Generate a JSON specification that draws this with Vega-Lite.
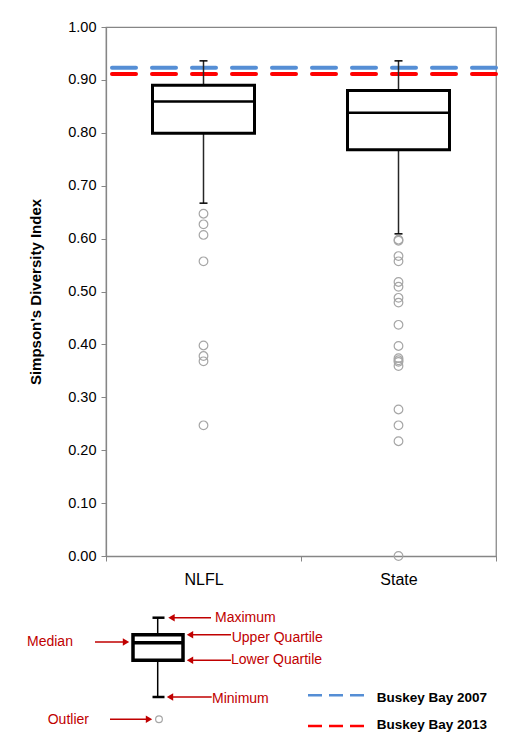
{
  "$schema": "https://vega.github.io/schema/vega-lite/v6.json",
  "padding": {"left": 27, "top": 18, "right": 0, "bottom": 0},
  "spacing": 13,
  "config": {
    "font": "Liberation Sans",
    "view": {"stroke": "#868686", "strokeWidth": 1.25}
  },
  "datasets": {
    "boxes": [
      {"site": "NLFL", "min": 0.667, "q1": 0.799, "median": 0.859, "q3": 0.890, "max": 0.936},
      {"site": "State", "min": 0.609, "q1": 0.768, "median": 0.838, "q3": 0.880, "max": 0.936}
    ],
    "outliers": [
      {"site": "NLFL", "value": 0.647}, {"site": "NLFL", "value": 0.627}, {"site": "NLFL", "value": 0.607},
      {"site": "NLFL", "value": 0.557}, {"site": "NLFL", "value": 0.398}, {"site": "NLFL", "value": 0.378},
      {"site": "NLFL", "value": 0.368}, {"site": "NLFL", "value": 0.247},
      {"site": "State", "value": 0.598}, {"site": "State", "value": 0.596}, {"site": "State", "value": 0.567},
      {"site": "State", "value": 0.557}, {"site": "State", "value": 0.518}, {"site": "State", "value": 0.509},
      {"site": "State", "value": 0.488}, {"site": "State", "value": 0.479}, {"site": "State", "value": 0.437},
      {"site": "State", "value": 0.397}, {"site": "State", "value": 0.374}, {"site": "State", "value": 0.370},
      {"site": "State", "value": 0.367}, {"site": "State", "value": 0.359}, {"site": "State", "value": 0.277},
      {"site": "State", "value": 0.247}, {"site": "State", "value": 0.217}, {"site": "State", "value": 0.0}
    ],
    "refs": [
      {"label": "Buskey Bay 2007", "value": 0.923},
      {"label": "Buskey Bay 2013", "value": 0.911}
    ],
    "schematicWhisker": [{"x": 13.07, "y": 1.67, "y2": 9.6}],
    "schematicCaps": [{"x": 12.55, "x2": 13.75, "y": 1.67}, {"x": 12.55, "x2": 13.75, "y": 9.6}],
    "schematicBox": [{"x": 10.6, "x2": 15.6, "y": 3.37, "y2": 5.93, "ym": 4.17}],
    "schematicOutlier": [{"x": 13.2, "y": 11.83}],
    "arrows": [
      {"x": 18.4, "x2": 14.5, "y": 1.67, "head": 14.45, "dir": "left"},
      {"x": 20.4, "x2": 16.4, "y": 3.37, "head": 16.3, "dir": "left"},
      {"x": 20.4, "x2": 16.4, "y": 5.93, "head": 16.3, "dir": "left"},
      {"x": 18.47, "x2": 14.4, "y": 9.6, "head": 14.3, "dir": "left"},
      {"x": 6.8, "x2": 9.8, "y": 4.1, "head": 9.9, "dir": "right"},
      {"x": 8.3, "x2": 12.1, "y": 11.83, "head": 12.2, "dir": "right"}
    ],
    "notes": [
      {"x": 18.8, "y": 1.7, "text": "Maximum"},
      {"x": 20.47, "y": 3.7, "text": "Upper Quartile"},
      {"x": 20.4, "y": 5.93, "text": "Lower Quartile"},
      {"x": 18.5, "y": 9.8, "text": "Minimum"},
      {"x": 0.0, "y": 4.1, "text": "Median"},
      {"x": 2.07, "y": 11.87, "text": "Outlier"}
    ],
    "legendItems": [
      {"label": "Buskey Bay 2007", "x": 28.1, "x2": 34.2, "y": 9.43, "tx": 34.97, "ty": 9.67},
      {"label": "Buskey Bay 2013", "x": 28.1, "x2": 34.2, "y": 12.5, "tx": 34.97, "ty": 12.4}
    ]
  },
  "vconcat": [
    {
      "width": 390,
      "height": 529,
      "layer": [
        {
          "data": {"name": "refs"},
          "mark": {"type": "rule", "strokeWidth": 4, "strokeDash": [24, 16], "strokeCap": "round"},
          "encoding": {
            "y": {
              "field": "value", "type": "quantitative",
              "scale": {"domain": [0, 1], "nice": false, "zero": true},
              "title": "Simpson's Diversity Index",
              "axis": {
                "values": [0, 0.1, 0.2, 0.3, 0.4, 0.5, 0.6, 0.7, 0.8, 0.9, 1.0],
                "format": ".2f", "grid": false,
                "labelFontSize": 14.5, "labelColor": "#000000", "labelPadding": 5,
                "tickSize": 5, "tickColor": "#868686", "domainColor": "#868686", "domainWidth": 1.25,
                "titleFontSize": 15, "titleFontWeight": "bold", "titleColor": "#000000", "titlePadding": 24
              }
            },
            "color": {
              "field": "label", "type": "nominal",
              "scale": {"domain": ["Buskey Bay 2007", "Buskey Bay 2013"], "range": ["#558ED5", "#FF0000"]},
              "legend": null
            }
          }
        },
        {
          "data": {"name": "boxes"},
          "mark": {"type": "rule", "color": "#262626", "strokeWidth": 1.5},
          "encoding": {
            "x": {
              "field": "site", "type": "nominal", "sort": ["NLFL", "State"],
              "scale": {"paddingInner": 0, "paddingOuter": 0},
              "title": null,
              "axis": {
                "labelAngle": 0, "labelFontSize": 16, "labelColor": "#000000", "labelPadding": 10,
                "tickBand": "extent", "tickSize": 5, "tickColor": "#868686",
                "domainColor": "#868686", "domainWidth": 1.25
              }
            },
            "y": {"field": "min", "type": "quantitative", "title": "Simpson's Diversity Index"},
            "y2": {"field": "max"}
          }
        },
        {
          "data": {"name": "boxes"},
          "mark": {"type": "bar", "fill": "#ffffff", "stroke": "#000000", "strokeWidth": 3, "size": 102},
          "encoding": {
            "x": {"field": "site", "type": "nominal", "sort": ["NLFL", "State"], "title": null},
            "y": {"field": "q1", "type": "quantitative", "title": "Simpson's Diversity Index"},
            "y2": {"field": "q3"}
          }
        },
        {
          "data": {"name": "boxes"},
          "mark": {"type": "tick", "color": "#000000", "size": 102, "thickness": 2.5, "opacity": 1},
          "encoding": {
            "x": {"field": "site", "type": "nominal", "sort": ["NLFL", "State"], "title": null},
            "y": {"field": "median", "type": "quantitative", "title": "Simpson's Diversity Index"}
          }
        },
        {
          "data": {"name": "boxes"},
          "mark": {"type": "tick", "color": "#000000", "size": 8, "thickness": 1.5, "opacity": 1},
          "encoding": {
            "x": {"field": "site", "type": "nominal", "sort": ["NLFL", "State"], "title": null},
            "y": {"field": "max", "type": "quantitative", "title": "Simpson's Diversity Index"}
          }
        },
        {
          "data": {"name": "boxes"},
          "mark": {"type": "tick", "color": "#000000", "size": 8, "thickness": 1.5, "opacity": 1},
          "encoding": {
            "x": {"field": "site", "type": "nominal", "sort": ["NLFL", "State"], "title": null},
            "y": {"field": "min", "type": "quantitative", "title": "Simpson's Diversity Index"}
          }
        },
        {
          "data": {"name": "outliers"},
          "mark": {"type": "point", "shape": "circle", "filled": false, "size": 75, "stroke": "#A6A6A6", "strokeWidth": 1.2, "opacity": 1, "clip": false},
          "encoding": {
            "x": {"field": "site", "type": "nominal", "sort": ["NLFL", "State"], "title": null},
            "y": {"field": "value", "type": "quantitative", "title": "Simpson's Diversity Index"}
          }
        }
      ]
    },
    {
      "width": 390,
      "height": 130,
      "view": {"stroke": null},
      "layer": [
        {
          "data": {"name": "schematicWhisker"},
          "mark": {"type": "rule", "color": "#000000", "strokeWidth": 1.5},
          "encoding": {
            "x": {"field": "x", "type": "quantitative", "scale": {"domain": [7.9, 46.9], "nice": false, "zero": false}, "axis": null},
            "y": {"field": "y", "type": "quantitative", "scale": {"domain": [0, 13], "nice": false, "zero": false, "reverse": true}, "axis": null},
            "y2": {"field": "y2"}
          }
        },
        {
          "data": {"name": "schematicCaps"},
          "mark": {"type": "rule", "color": "#000000", "strokeWidth": 2.5},
          "encoding": {
            "x": {"field": "x", "type": "quantitative", "axis": null},
            "x2": {"field": "x2"},
            "y": {"field": "y", "type": "quantitative", "axis": null}
          }
        },
        {
          "data": {"name": "schematicBox"},
          "mark": {"type": "rect", "fill": "#ffffff", "stroke": "#000000", "strokeWidth": 3.5},
          "encoding": {
            "x": {"field": "x", "type": "quantitative", "axis": null},
            "x2": {"field": "x2"},
            "y": {"field": "y", "type": "quantitative", "axis": null},
            "y2": {"field": "y2"}
          }
        },
        {
          "data": {"name": "schematicBox"},
          "mark": {"type": "rule", "color": "#000000", "strokeWidth": 3.5},
          "encoding": {
            "x": {"field": "x", "type": "quantitative", "axis": null},
            "x2": {"field": "x2"},
            "y": {"field": "ym", "type": "quantitative", "axis": null}
          }
        },
        {
          "data": {"name": "schematicOutlier"},
          "mark": {"type": "point", "shape": "circle", "filled": false, "size": 45, "stroke": "#A6A6A6", "strokeWidth": 1.2, "opacity": 1},
          "encoding": {
            "x": {"field": "x", "type": "quantitative", "axis": null},
            "y": {"field": "y", "type": "quantitative", "axis": null}
          }
        },
        {
          "data": {"name": "arrows"},
          "mark": {"type": "rule", "color": "#C00000", "strokeWidth": 1.5},
          "encoding": {
            "x": {"field": "x", "type": "quantitative", "axis": null},
            "x2": {"field": "x2"},
            "y": {"field": "y", "type": "quantitative", "axis": null}
          }
        },
        {
          "data": {"name": "arrows"},
          "mark": {"type": "point", "filled": true, "size": 55, "color": "#C00000", "opacity": 1},
          "encoding": {
            "x": {"field": "head", "type": "quantitative", "axis": null},
            "y": {"field": "y", "type": "quantitative", "axis": null},
            "shape": {"field": "dir", "type": "nominal", "scale": {"domain": ["left", "right"], "range": ["triangle-left", "triangle-right"]}, "legend": null}
          }
        },
        {
          "data": {"name": "notes"},
          "mark": {"type": "text", "align": "left", "baseline": "middle", "color": "#C00000", "fontSize": 14},
          "encoding": {
            "x": {"field": "x", "type": "quantitative", "axis": null},
            "y": {"field": "y", "type": "quantitative", "axis": null},
            "text": {"field": "text"}
          }
        },
        {
          "data": {"name": "legendItems"},
          "mark": {"type": "rule", "strokeWidth": 2.5, "strokeDash": [14, 7]},
          "encoding": {
            "x": {"field": "x", "type": "quantitative", "axis": null},
            "x2": {"field": "x2"},
            "y": {"field": "y", "type": "quantitative", "axis": null},
            "color": {
              "field": "label", "type": "nominal",
              "scale": {"domain": ["Buskey Bay 2007", "Buskey Bay 2013"], "range": ["#558ED5", "#FF0000"]},
              "legend": null
            }
          }
        },
        {
          "data": {"name": "legendItems"},
          "mark": {"type": "text", "align": "left", "baseline": "middle", "color": "#000000", "fontSize": 13.5, "fontWeight": "bold"},
          "encoding": {
            "x": {"field": "tx", "type": "quantitative", "axis": null},
            "y": {"field": "ty", "type": "quantitative", "axis": null},
            "text": {"field": "label"}
          }
        }
      ]
    }
  ]
}
